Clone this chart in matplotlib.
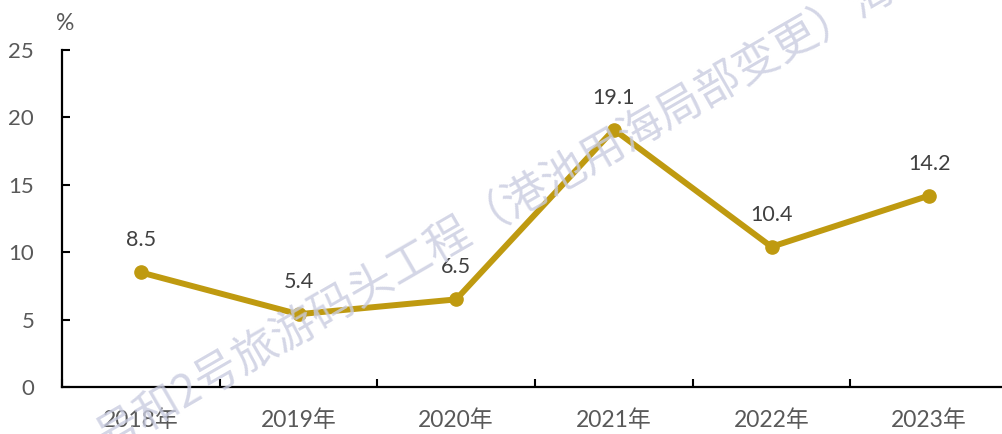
import matplotlib
matplotlib.use("Agg")
from matplotlib import pyplot as plt

years = ["2018年", "2019年", "2020年", "2021年", "2022年", "2023年"]
values = [8.5, 5.4, 6.5, 19.1, 10.4, 14.2]
yticks = [0, 5, 10, 15, 20, 25]
watermark = "号和2号旅游码头工程（港池用海局部变更）海域使用论证报告"

fonts = ["Lato", "Noto Sans CJK SC", "DejaVu Sans"]
plt.rcParams["font.family"] = fonts

W, H = 1003, 434
fig = plt.figure(figsize=(W / 100, H / 100), dpi=100)
ax = fig.add_axes([62 / W, 1 - 387 / H, 946 / W, 337 / H])

x = list(range(len(years)))
ax.plot(x, values, color="#BF9A10", lw=4.3, marker="o", ms=9.5,
        solid_joinstyle="round", solid_capstyle="round", zorder=3)
for xi, v in zip(x, values):
    ax.annotate(f"{v:.1f}", (xi, v), xytext=(0, 23), textcoords="offset points",
                ha="center", va="center", fontsize=15.5, color="#404040")

ax.set_xlim(-0.5, 5.5)
ax.set_ylim(0, 25)
ax.set_yticks(yticks)
ax.set_xticks(x)
ax.set_xticklabels(years)
# category boundary ticks on the x axis
ax.set_xticks([i - 0.5 for i in range(len(years) + 1)], minor=True)
ax.tick_params(axis="x", which="major", length=0, pad=16, labelsize=16.5, labelcolor="#595959")
ax.tick_params(axis="x", which="minor", direction="in", length=6, width=1.5)
ax.tick_params(axis="y", direction="in", length=6, width=1.5, pad=20,
               labelsize=16, labelcolor="#595959")

for s in ["top", "right"]:
    ax.spines[s].set_visible(False)
for s in ["left", "bottom"]:
    ax.spines[s].set_linewidth(1.6)
    ax.spines[s].set_color("black")

fig.text(65 / W, 1 - 23 / H, "%", ha="center", va="center", fontsize=16.5, color="#595959")

# faint diagonal watermark
fig.text(100 / W, 1 - 441 / H, watermark, rotation=30, rotation_mode="anchor",
         ha="left", va="center", fontsize=32, color="#C9CCE0", alpha=0.8,
         family=["Noto Sans CJK SC"], zorder=0)

fig.savefig("out.png", dpi=100)
